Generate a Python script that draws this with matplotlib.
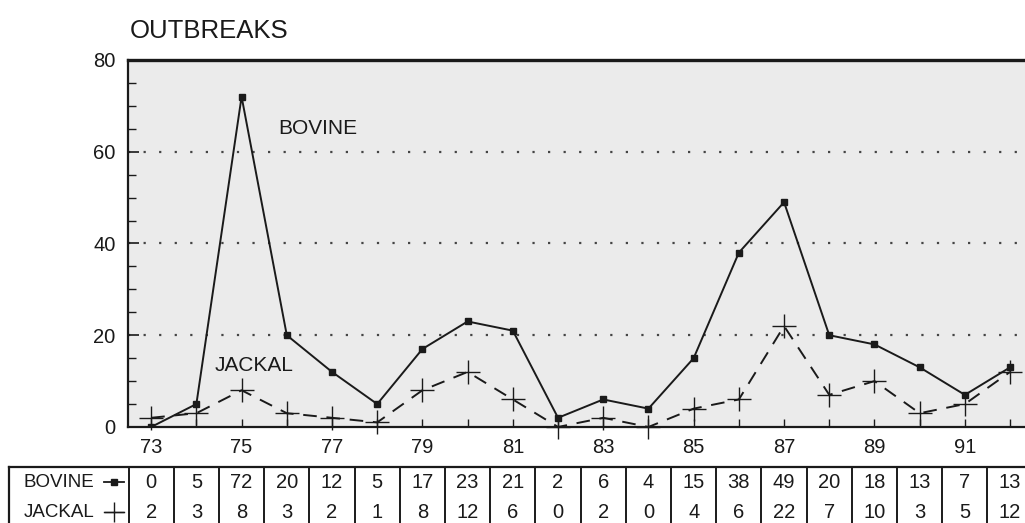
import matplotlib.pyplot as plt

# outbreaks per year, 1973-1992
years = list(range(73, 93))
bovine = [0, 5, 72, 20, 12, 5, 17, 23, 21, 2, 6, 4, 15, 38, 49, 20, 18, 13, 7, 13]
jackal = [2, 3, 8, 3, 2, 1, 8, 12, 6, 0, 2, 0, 4, 6, 22, 7, 10, 3, 5, 12]
year_ticks = [73, 75, 77, 79, 81, 83, 85, 87, 89, 91]
row_names = ['BOVINE', 'JACKAL']

plt.rcParams['font.family'] = ['Liberation Sans', 'DejaVu Sans']
ink = '#1a1a1a'

fig = plt.figure(figsize=(10.25, 5.23), dpi=100)
ax = fig.add_axes([0.125, 0.1836, 0.89, 0.7017])
xlim = (72.49, 92.67)
ax.set_xlim(*xlim)
ax.set_ylim(0, 80)
ax.set_facecolor('#ebebeb')

# dotted reference lines
for yv in [20, 40, 60]:
    ax.axhline(yv, color='#444444', lw=1.6, ls=(0, (1, 6)), zorder=1)

ax.plot(years, bovine, color=ink, lw=1.4, marker='s', ms=4.5, zorder=3)
ax.plot(years, jackal, color=ink, lw=1.4, ls=(0, (7, 5)), marker='+',
        ms=17, mew=1.0, zorder=3, clip_on=False)

ax.text(75.8, 65, 'BOVINE', fontsize=15, color=ink, va='center', ha='left')
ax.text(74.4, 13.5, 'JACKAL', fontsize=15, color=ink, va='center', ha='left')

ax.set_yticks([0, 20, 40, 60, 80])
ax.set_yticks(range(0, 81, 5), minor=True)
ax.set_xticks(year_ticks)
ax.set_xticks(years, minor=True)
ax.tick_params(axis='both', which='both', direction='in', color=ink,
               labelcolor=ink, labelsize=14.5)
ax.tick_params(axis='y', which='major', length=8, width=1.2, pad=9)
ax.tick_params(axis='y', which='minor', length=6, width=1.0)
ax.tick_params(axis='x', which='both', length=6, width=1.0, pad=8)

for side in ['left', 'bottom']:
    ax.spines[side].set_linewidth(1.6)
    ax.spines[side].set_color(ink)
ax.spines['top'].set_linewidth(2.4)
ax.spines['top'].set_color(ink)
ax.spines['right'].set_visible(False)

fig.text(0.127, 0.94, 'OUTBREAKS', fontsize=18.5, color=ink, ha='left', va='center')

# data table under the chart, one column per year
tab = fig.add_axes([0.125, -0.008, 0.89, 60 / 523])
tab.set_xlim(*xlim)
tab.set_ylim(0, 2)
tab.axis('off')

head_left = 69.86
tab.plot([head_left, xlim[1]], [2, 2], color=ink, lw=1.6, clip_on=False)
tab.plot([head_left, head_left], [0, 2], color=ink, lw=1.6, clip_on=False)
for yr in years:
    tab.plot([yr - 0.5, yr - 0.5], [0, 2], color=ink, lw=1.4, clip_on=False)
tab.plot([years[-1] + 0.5] * 2, [0, 2], color=ink, lw=1.4, clip_on=False)

for row_y, name, vals in [(1.5, row_names[0], bovine), (0.5, row_names[1], jackal)]:
    tab.text(70.17, row_y, name, fontsize=13.5, color=ink, ha='left', va='center')
    for yr, v in zip(years, vals):
        tab.text(yr, row_y, str(v), fontsize=14.5, color=ink, ha='center', va='center')

tab.plot([71.95, 72.4], [1.5, 1.5], color=ink, lw=1.3, clip_on=False)
tab.plot([72.17], [1.5], color=ink, marker='s', ms=4, clip_on=False)
tab.plot([71.95, 72.4], [0.5, 0.5], color=ink, lw=1.0, clip_on=False)
tab.plot([72.17], [0.5], color=ink, marker='+', ms=15, mew=1.0, clip_on=False)

fig.savefig('out.png', dpi=100)
